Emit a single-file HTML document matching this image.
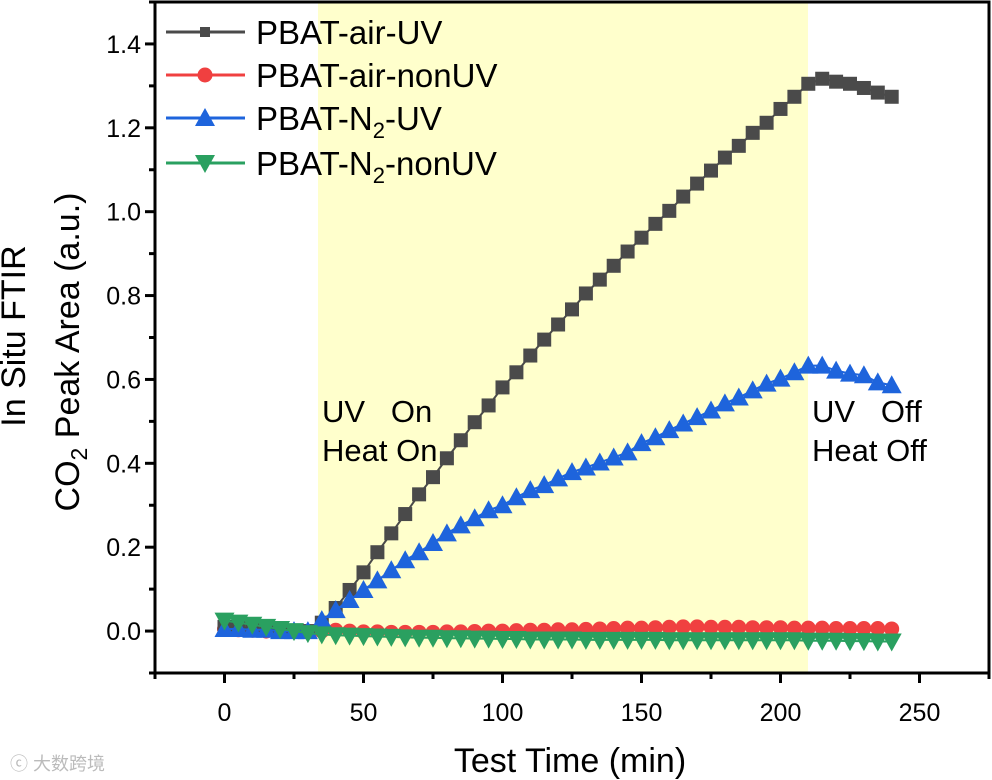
<!DOCTYPE html>
<html><head><meta charset="utf-8"><style>
body{margin:0;background:#fff;}
svg{display:block;font-family:"Liberation Sans",Arial,sans-serif;}
</style></head><body>
<svg id="chart" width="992" height="780" viewBox="0 0 992 780">
<rect x="318" y="2" width="490" height="671" fill="#ffffcc"/>
<g id="marks"></g>
<g id="axes"></g>
<text x="322" y="422" font-size="31" xml:space="preserve">UV   On</text>
<text x="322" y="461" font-size="31">Heat On</text>
<text x="812" y="422" font-size="31" xml:space="preserve">UV   Off</text>
<text x="812" y="461" font-size="31">Heat Off</text>
<text x="570" y="772" font-size="34" text-anchor="middle">Test Time (min)</text>
<text transform="translate(25,336) rotate(-90)" font-size="34" text-anchor="middle">In Situ FTIR</text>
<text transform="translate(79,352) rotate(-90)" font-size="34" text-anchor="middle">CO<tspan font-size="23" dy="8">2</tspan><tspan dy="-8"> Peak Area (a.u.)</tspan></text>
<g id="legend"></g>
<text x="10" y="770" font-size="18" fill="#bbb" font-family="'Liberation Sans','Noto Sans CJK SC',sans-serif">ⓒ 大数跨境</text>
</svg>
<script>
const times = [0,5,10,15,20,25,30,35,40,45,50,55,60,65,70,75,80,85,90,95,100,105,110,115,120,125,130,135,140,145,150,155,160,165,170,175,180,185,190,195,200,205,210,215,220,225,230,235,240];
const airUV = [0.01,0.01,0.005,0.005,0,0,0,0.02,0.055,0.098,0.14,0.188,0.233,0.279,0.326,0.367,0.412,0.455,0.498,0.538,0.581,0.617,0.657,0.695,0.731,0.767,0.805,0.838,0.871,0.905,0.938,0.971,1.002,1.036,1.067,1.098,1.129,1.157,1.188,1.212,1.245,1.274,1.305,1.317,1.31,1.305,1.295,1.284,1.274];
const airNonUV = [0.005,0.003,0.002,0,0,0,-0.002,0,0.002,0,-0.002,-0.002,-0.003,-0.003,-0.003,-0.003,-0.002,-0.002,-0.001,0,0,0.001,0.002,0.002,0.003,0.003,0.004,0.005,0.006,0.007,0.007,0.008,0.009,0.01,0.01,0.009,0.009,0.009,0.008,0.008,0.008,0.007,0.007,0.007,0.006,0.006,0.006,0.006,0.005];
const n2UV = [0.005,0.005,0.003,0.003,0,0,0,0.026,0.05,0.074,0.098,0.121,0.145,0.169,0.188,0.21,0.233,0.252,0.269,0.288,0.3,0.319,0.336,0.348,0.364,0.379,0.39,0.402,0.414,0.426,0.448,0.462,0.479,0.495,0.51,0.526,0.543,0.557,0.574,0.59,0.602,0.617,0.633,0.633,0.621,0.614,0.61,0.593,0.586];
const n2NonUV = [0.025,0.02,0.015,0.01,0.005,0,-0.005,-0.008,-0.01,-0.011,-0.012,-0.013,-0.014,-0.015,-0.016,-0.016,-0.017,-0.017,-0.018,-0.018,-0.019,-0.019,-0.02,-0.02,-0.02,-0.02,-0.021,-0.021,-0.021,-0.021,-0.021,-0.021,-0.022,-0.022,-0.022,-0.022,-0.022,-0.022,-0.022,-0.022,-0.022,-0.022,-0.023,-0.023,-0.023,-0.024,-0.024,-0.025,-0.025];
const xTicks = [0,50,100,150,200,250];
const yTicks = [0,0.2,0.4,0.6,0.8,1.0,1.2,1.4];
const NS='http://www.w3.org/2000/svg';
const L=155,R=989,T=2,B=673,X0=-25,X1=275,Y0=-0.1,Y1=1.5;
const xs=v=>L+(v-X0)/(X1-X0)*(R-L);
const ys=v=>B-(v-Y0)/(Y1-Y0)*(B-T);
function mk(tag,attrs,parent){const e=document.createElementNS(NS,tag);for(const k in attrs)e.setAttribute(k,attrs[k]);parent.appendChild(e);return e;}
function marker(shape,x,y,color,parent){
  if(shape==='sq')return mk('rect',{x:x-7,y:y-7,width:14,height:14,fill:color},parent);
  if(shape==='ci')return mk('circle',{cx:x,cy:y,r:7.5,fill:color},parent);
  if(shape==='up')return mk('polygon',{points:`${x},${y-10} ${x+10},${y+8} ${x-10},${y+8}`,fill:color},parent);
  return mk('polygon',{points:`${x-10},${y-8} ${x+10},${y-8} ${x},${y+10}`,fill:color},parent);
}
const series=[
 {name:'PBAT-air-UV',vals:airUV,color:'#4a4a4a',shape:'sq',id:'air-uv'},
 {name:'PBAT-air-nonUV',vals:airNonUV,color:'#f04040',shape:'ci',id:'air-nonuv'},
 {name:'PBAT-N2-UV',vals:n2UV,color:'#1e64dc',shape:'up',id:'n2-uv'},
 {name:'PBAT-N2-nonUV',vals:n2NonUV,color:'#2aa060',shape:'dn',id:'n2-nonuv'}];
const marks=document.getElementById('marks');
const drawOrder=[1,0,2,3];
drawOrder.forEach(i=>{const s=series[i];
  const g=mk('g',{},marks);
  
  
  const pl=mk('polyline',{points:times.map((t,j)=>xs(t)+','+ys(s.vals[j])).join(' '),fill:'none',stroke:s.color,'stroke-width':2},g);
  
  
  times.forEach((t,j)=>{const m=marker(s.shape,xs(t),ys(s.vals[j]),s.color,g);
    
    });
});
const ax=document.getElementById('axes');
const fr=mk('rect',{x:L,y:T,width:R-L,height:B-T,fill:'none',stroke:'#000','stroke-width':3},ax);


for(let v=-25;v<=275;v+=25){const major=v%50===0;
  mk('line',{x1:xs(v),x2:xs(v),y1:B,y2:B+(major?10:6),stroke:'#000','stroke-width':3},ax);}
xTicks.forEach(v=>{const t=mk('text',{x:xs(v),y:B+48,'font-size':25,'text-anchor':'middle'},ax);t.textContent=v;
  
  });
for(let k=-1;k<=15;k++){const v=k/10;const major=k>=0&&k%2===0;
  mk('line',{x1:L,x2:L-(major?10:6),y1:ys(v),y2:ys(v),stroke:'#000','stroke-width':3},ax);}
yTicks.forEach(v=>{const t=mk('text',{x:L-14,y:ys(v)+9,'font-size':25,'text-anchor':'end'},ax);t.textContent=v.toFixed(1);
  
  });
const lg=document.getElementById('legend');


const rows=[32,75,118,163];
series.forEach((s,i)=>{const y=rows[i];
  const g=mk('g',{},lg);
  
  
  mk('line',{x1:166,x2:245,y1:y,y2:y,stroke:s.color,'stroke-width':3},g);
  const m=marker(s.shape,205,y,s.color,g);
  if(s.shape==='sq'){m.setAttribute('x',200);m.setAttribute('y',y-5);m.setAttribute('width',10);m.setAttribute('height',10);}
  const t=mk('text',{x:256,y:y+12,'font-size':33},g);
  const parts=s.name.split('N2');
  if(parts.length>1){t.appendChild(document.createTextNode(parts[0]+'N'));
    const sb=mk('tspan',{'font-size':22,dy:8},t);sb.textContent='2';
    const rest=mk('tspan',{dy:-8},t);rest.textContent=parts[1];}
  else t.textContent=s.name;
});
</script>
</body></html>
